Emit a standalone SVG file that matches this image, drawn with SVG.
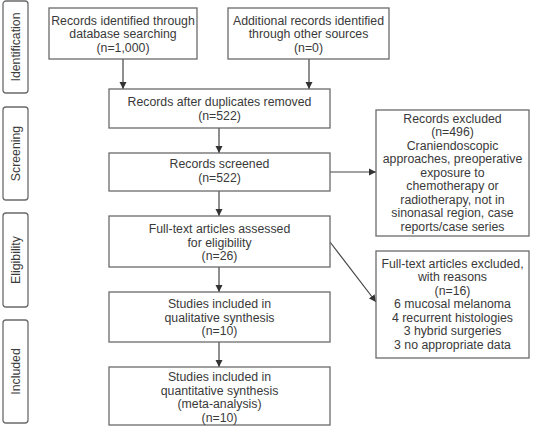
<svg xmlns="http://www.w3.org/2000/svg" width="537" height="429" viewBox="0 0 537 429">
<style>
.box{fill:#fff;stroke:#6a6a6a;stroke-width:1.3}
.side{fill:#fff;stroke:#6a6a6a;stroke-width:1.3}
text{font-family:"Liberation Sans",Arial,sans-serif;font-size:12.3px;fill:#3a3a3a;text-anchor:middle}
.conn{stroke:#444;stroke-width:1.2;fill:none;marker-end:url(#ah)}
</style>
<defs>
<marker id="ah" markerWidth="8" markerHeight="8" refX="7" refY="4" orient="auto" markerUnits="userSpaceOnUse">
<path d="M0,0.5 L7,4 L0,7.5 Z" fill="#333"/>
</marker>
</defs>
<rect width="537" height="429" fill="#fff"/>
<g id="side-identification"><rect class="side" x="3" y="1" width="25" height="92" rx="3"/><text transform="translate(20,47) rotate(-90)">Identification</text></g>
<g id="side-screening"><rect class="side" x="3" y="107" width="25" height="93" rx="3"/><text transform="translate(20,153.5) rotate(-90)">Screening</text></g>
<g id="side-eligibility"><rect class="side" x="3" y="213" width="25" height="94" rx="3"/><text transform="translate(20,260) rotate(-90)">Eligibility</text></g>
<g id="side-included"><rect class="side" x="3" y="320" width="25" height="103" rx="3"/><text transform="translate(20,371.5) rotate(-90)">Included</text></g>

<g id="connectors">
<line class="conn" x1="123" y1="59" x2="123" y2="89"/>
<line class="conn" x1="309" y1="59" x2="309" y2="89"/>
<line class="conn" x1="219" y1="128" x2="219" y2="153"/>
<line class="conn" x1="219" y1="191" x2="219" y2="216"/>
<line class="conn" x1="219" y1="267" x2="219" y2="292"/>
<line class="conn" x1="219" y1="342" x2="219" y2="367"/>
<line class="conn" x1="330" y1="172" x2="376" y2="172"/>
<line class="conn" x1="330" y1="242" x2="376" y2="302"/>
</g>

<g id="n-db"><rect class="box" x="49" y="8" width="148" height="51"/>
<text x="123" y="24.5">Records identified through</text><text x="123" y="38">database searching</text><text x="123" y="51.5">(n=1,000)</text></g>
<g id="n-other"><rect class="box" x="228" y="8" width="161" height="51"/>
<text x="308.5" y="24.5">Additional records identified</text><text x="308.5" y="38">through other sources</text><text x="308.5" y="51.5">(n=0)</text></g>
<g id="n-dup"><rect class="box" x="109" y="89" width="221" height="39"/>
<text x="219.5" y="106">Records after duplicates removed</text><text x="219.5" y="119.5">(n=522)</text></g>
<g id="n-screened"><rect class="box" x="109" y="153" width="221" height="38"/>
<text x="219.5" y="168">Records screened</text><text x="219.5" y="181.5">(n=522)</text></g>
<g id="n-fulltext"><rect class="box" x="109" y="216" width="221" height="51"/>
<text x="219.5" y="233">Full-text articles assessed</text><text x="219.5" y="246.5">for eligibility</text><text x="219.5" y="260">(n=26)</text></g>
<g id="n-qual"><rect class="box" x="109" y="292" width="221" height="50"/>
<text x="219.5" y="308">Studies included in</text><text x="219.5" y="321.5">qualitative synthesis</text><text x="219.5" y="335">(n=10)</text></g>
<g id="n-quant"><rect class="box" x="109" y="367" width="221" height="58"/>
<text x="219.5" y="381">Studies included in</text><text x="219.5" y="394.5">quantitative synthesis</text><text x="219.5" y="408">(meta-analysis)</text><text x="219.5" y="421.5">(n=10)</text></g>
<g id="n-excl1"><rect class="box" x="376" y="110" width="153" height="126"/>
<text x="452.5" y="122.5">Records excluded</text><text x="452.5" y="136">(n=496)</text><text x="452.5" y="149.5">Craniendoscopic</text><text x="452.5" y="163">approaches, preoperative</text><text x="452.5" y="176.5">exposure to</text><text x="452.5" y="190">chemotherapy or</text><text x="452.5" y="203.5">radiotherapy, not in</text><text x="452.5" y="217">sinonasal region, case</text><text x="452.5" y="230.5">reports/case series</text></g>
<g id="n-excl2"><rect class="box" x="376" y="251" width="153" height="107"/>
<text x="452.5" y="267.5">Full-text articles excluded,</text><text x="452.5" y="281">with reasons</text><text x="452.5" y="294.5">(n=16)</text><text x="452.5" y="308">6 mucosal melanoma</text><text x="452.5" y="321.5">4 recurrent histologies</text><text x="452.5" y="335">3 hybrid surgeries</text><text x="452.5" y="348.5">3 no appropriate data</text></g>
</svg>
